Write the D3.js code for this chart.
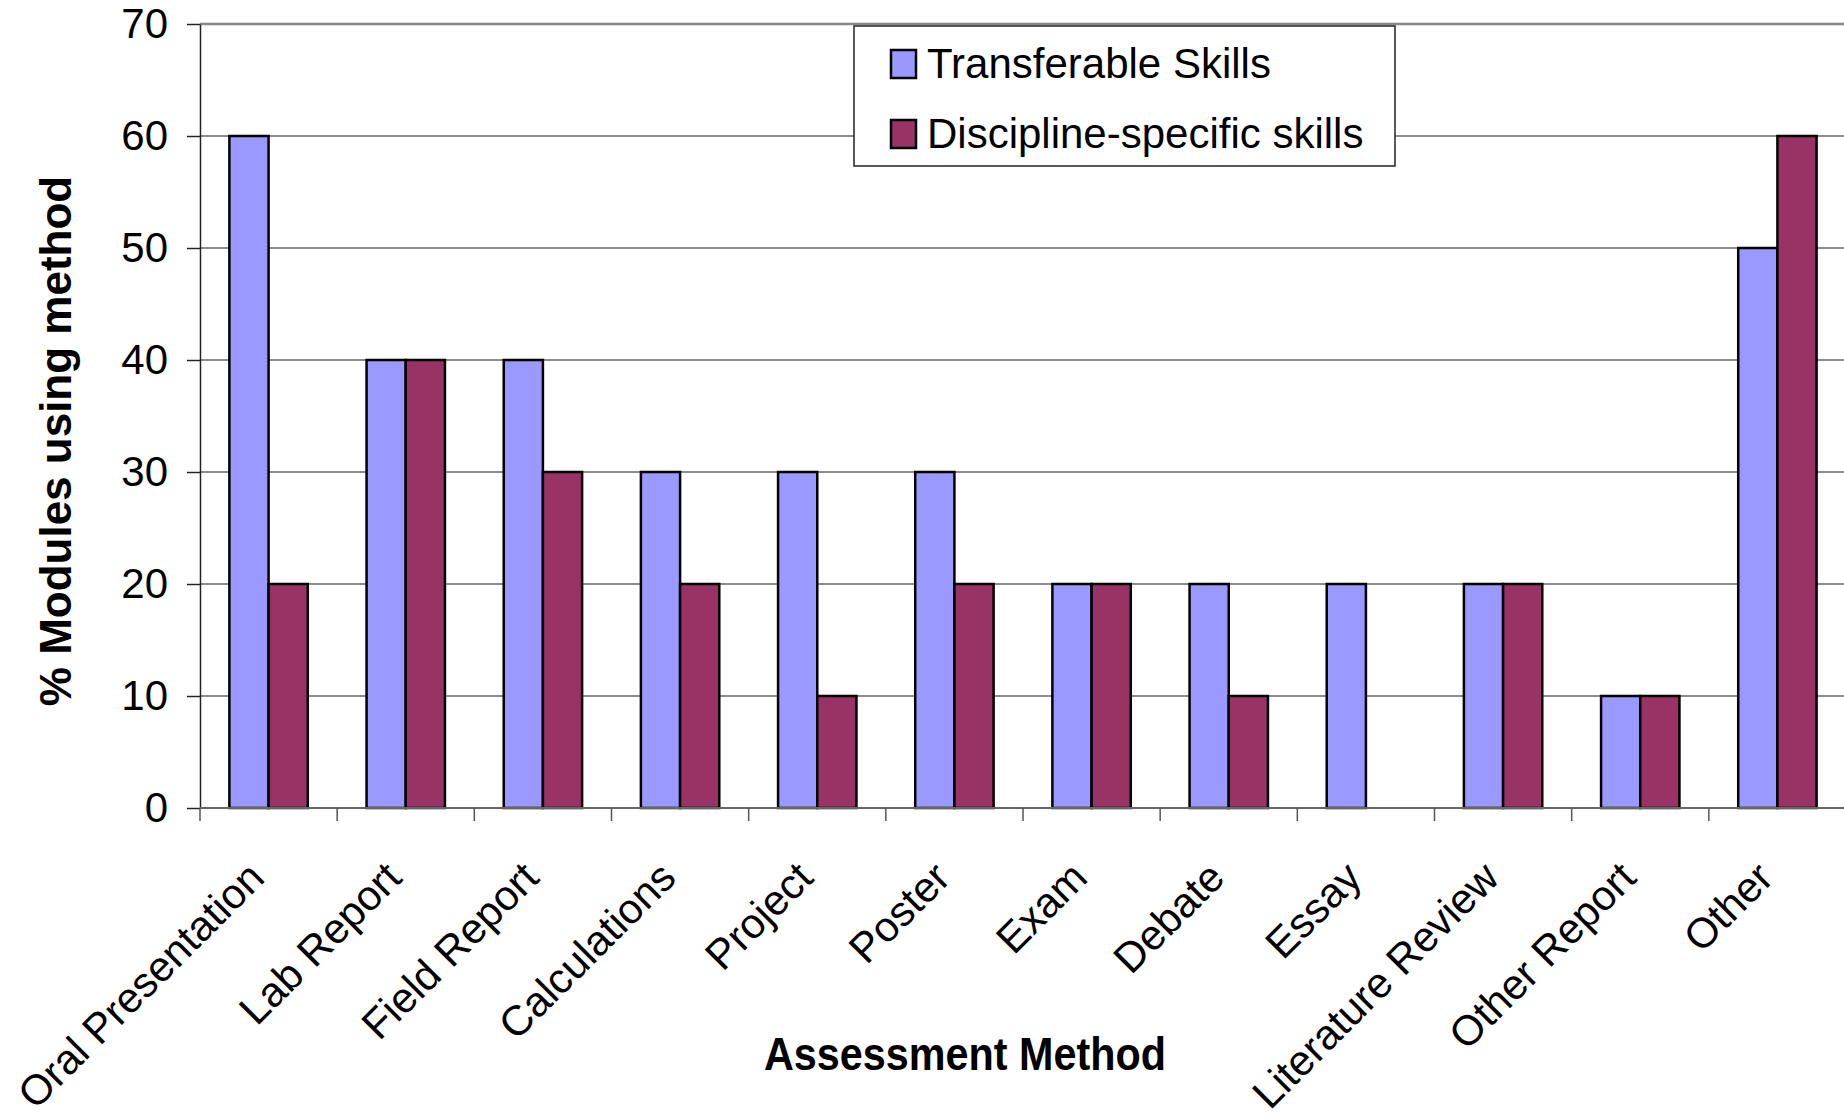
<!DOCTYPE html>
<html>
<head>
<meta charset="utf-8">
<script src="https://cdnjs.cloudflare.com/ajax/libs/d3/7.8.5/d3.min.js"></script>
<style>
    html, body { margin: 0; padding: 0; background: #fff; }
    svg { display: block; font-family: "Liberation Sans", Arial, sans-serif; }
</style>
</head>
<body>
<div id="chart"></div>
<script>
var categories = ["Oral Presentation", "Lab Report", "Field Report", "Calculations", "Project", "Poster",
    "Exam", "Debate", "Essay", "Literature Review", "Other Report", "Other"];
var transferable = [60, 40, 40, 30, 30, 30, 20, 20, 20, 20, 10, 50];
var discipline = [20, 40, 30, 20, 10, 20, 20, 10, 0, 20, 10, 60];
var seriesNames = ["Transferable Skills", "Discipline-specific skills"];
var seriesColors = ["#9999FF", "#993366"];
var yTicks = [0, 10, 20, 30, 40, 50, 60, 70];

var w = 1844, h = 1119;
var margin = {top: 24, left: 200, bottom: 311};
var plotRight = 1846;

var svg = d3.select("#chart").append("svg")
    .attr("width", w)
    .attr("height", h);

var x = d3.scaleBand()
    .domain(categories)
    .range([margin.left, plotRight])
    .padding(0);

var xs = d3.scaleBand()
    .domain([0, 1])
    .range([0, x.bandwidth()])
    .paddingInner(0)
    .paddingOuter(0.75);

var y = d3.scaleLinear()
    .domain([0, 70])
    .range([h - margin.bottom, margin.top]);

// gridlines
svg.append("g")
    .selectAll("line")
    .data(yTicks.filter(function (d) { return d > 0; }))
    .enter().append("line")
    .attr("x1", margin.left)
    .attr("x2", plotRight)
    .attr("y1", function (d) { return y(d); })
    .attr("y2", function (d) { return y(d); })
    .style("stroke", function (d) { return d === 70 ? "#888" : "#666"; })
    .style("stroke-width", function (d) { return d === 70 ? 2.5 : 1.5; });

// bars
var rows = categories.map(function (c, i) {
    return {cat: c, vals: [transferable[i], discipline[i]]};
});

var group = svg.append("g")
    .selectAll("g")
    .data(rows)
    .enter().append("g")
    .attr("transform", function (d) { return "translate(" + x(d.cat) + ",0)"; });

group.selectAll("rect")
    .data(function (d) {
        return d.vals.map(function (v, k) { return {k: k, v: v}; }).filter(function (e) { return e.v > 0; });
    })
    .enter().append("rect")
    .attr("x", function (d) { return xs(d.k); })
    .attr("y", function (d) { return y(d.v); })
    .attr("width", xs.bandwidth())
    .attr("height", function (d) { return y(0) - y(d.v); })
    .style("fill", function (d) { return seriesColors[d.k]; })
    .style("stroke", "#000")
    .style("stroke-width", 2.5);

// y axis
var yAxis = d3.axisLeft(y)
    .tickValues(yTicks)
    .tickSizeInner(13)
    .tickSizeOuter(0)
    .tickPadding(19);

var yg = svg.append("g")
    .attr("transform", "translate(" + margin.left + ",0)")
    .call(yAxis);
yg.select(".domain").style("stroke", "#222").style("stroke-width", 1.5);
yg.selectAll(".tick line").style("stroke", "#222").style("stroke-width", 1.5);
yg.selectAll(".tick text")
    .style("font-size", "42px")
    .style("font-family", "'Liberation Sans', Arial, sans-serif")
    .style("fill", "#000");

// x axis line and boundary ticks
svg.append("line")
    .attr("x1", margin.left)
    .attr("x2", plotRight)
    .attr("y1", y(0))
    .attr("y2", y(0))
    .style("stroke", "#666")
    .style("stroke-width", 2);

var bounds = categories.map(function (c) { return x(c); }).concat([x.range()[1]]);
svg.append("g")
    .selectAll("line")
    .data(bounds)
    .enter().append("line")
    .attr("x1", function (d) { return d; })
    .attr("x2", function (d) { return d; })
    .attr("y1", y(0))
    .attr("y2", y(0) + 13)
    .style("stroke", "#555")
    .style("stroke-width", 1.5);

// category labels
svg.append("g")
    .selectAll("text")
    .data(categories)
    .enter().append("text")
    .attr("transform", function (d) {
        return "translate(" + (x(d) + x.bandwidth() / 2 - 2) + "," + (y(0) + 72) + ") rotate(-45)";
    })
    .attr("text-anchor", "end")
    .style("font-size", "42px")
    .text(function (d) { return d; });

// axis titles
svg.append("text")
    .attr("transform", "translate(71,441) rotate(-90)")
    .attr("text-anchor", "middle")
    .style("font-size", "44px")
    .style("font-weight", "bold")
    .text("% Modules using method");

svg.append("text")
    .attr("x", 965)
    .attr("y", 1070)
    .attr("text-anchor", "middle")
    .attr("textLength", 402)
    .attr("lengthAdjust", "spacingAndGlyphs")
    .style("font-size", "46px")
    .style("font-weight", "bold")
    .text("Assessment Method");

// legend
var legend = svg.append("g").attr("transform", "translate(854,26)");
legend.append("rect")
    .attr("width", 541)
    .attr("height", 140)
    .style("fill", "#fff")
    .style("stroke", "#222")
    .style("stroke-width", 1.5);

var item = legend.selectAll(".item")
    .data(seriesNames)
    .enter().append("g")
    .attr("class", "item")
    .attr("transform", function (d, i) { return "translate(0," + (i * 70) + ")"; });

item.append("rect")
    .attr("x", 37)
    .attr("y", 24)
    .attr("width", 25)
    .attr("height", 28)
    .style("fill", function (d, i) { return seriesColors[i]; })
    .style("stroke", "#000")
    .style("stroke-width", 2.5);

item.append("text")
    .attr("x", 73)
    .attr("y", 52)
    .style("font-size", "42px")
    .text(function (d) { return d; });
</script>
</body>
</html>
